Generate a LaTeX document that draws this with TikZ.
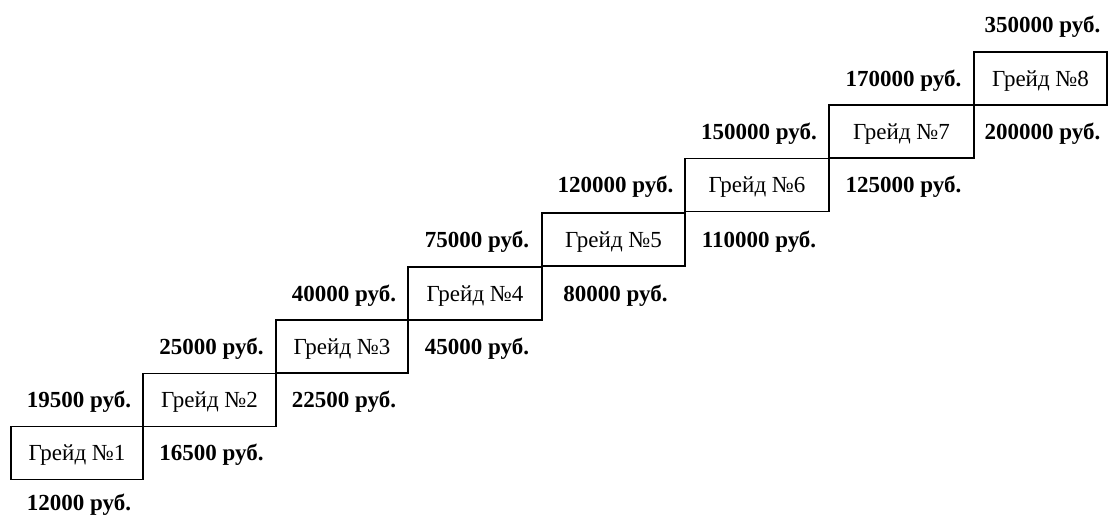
\documentclass[tikz,border=0pt]{standalone}
\usepackage{fontspec}
\setmainfont{Liberation Serif}
\begin{document}
\begin{tikzpicture}[x=1pt,y=-1pt,
  grade/.style={draw=black, line width=1.5pt, inner sep=0pt, minimum height=53pt,
    font=\fontsize{23}{27}\selectfont, text=black, text height=15pt, text depth=0pt},
  pay/.style={inner sep=0pt, font=\fontsize{23}{27}\selectfont\bfseries, text=black,
    text height=15pt, text depth=0pt}]
\useasboundingbox (0,0) rectangle (1116,517);
% grade boxes
\node[grade, minimum width=132pt] (g1) at (77,453) {Грейд №1};
\node[grade, minimum width=133pt] (g2) at (209.5,400) {Грейд №2};
\node[grade, minimum width=132pt] (g3) at (342,346.5) {Грейд №3};
\node[grade, minimum width=134pt] (g4) at (475,293.5) {Грейд №4};
\node[grade, minimum width=143pt] (g5) at (613.5,239.5) {Грейд №5};
\node[grade, minimum width=144pt] (g6) at (757,185) {Грейд №6};
\node[grade, minimum width=145pt] (g7) at (901.5,131.5) {Грейд №7};
\node[grade, minimum width=133pt] (g8) at (1040.5,78.5) {Грейд №8};
% lower (left) pay labels
\node[pay] (b1) at (79,503) {12000 руб.};
\node[pay] (b2) at (79,400) {19500 руб.};
\node[pay] (b3) at (211.5,346.5) {25000 руб.};
\node[pay] (b4) at (344,293.5) {40000 руб.};
\node[pay] (b5) at (477,239.5) {75000 руб.};
\node[pay] (b6) at (615.5,185) {120000 руб.};
\node[pay] (b7) at (759,131.5) {150000 руб.};
\node[pay] (b8) at (903.5,78.5) {170000 руб.};
% upper (right) pay labels
\node[pay] (t1) at (211.5,453) {16500 руб.};
\node[pay] (t2) at (344,400) {22500 руб.};
\node[pay] (t3) at (477,346.5) {45000 руб.};
\node[pay] (t4) at (615.5,293.5) {80000 руб.};
\node[pay] (t5) at (759,239.5) {110000 руб.};
\node[pay] (t6) at (903.5,185) {125000 руб.};
\node[pay] (t7) at (1042.5,131.5) {200000 руб.};
\node[pay] (t8) at (1042.5,25) {350000 руб.};
\end{tikzpicture}
\end{document}
